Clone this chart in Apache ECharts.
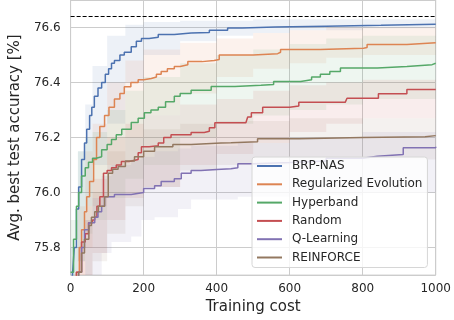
<!DOCTYPE html>
<html>
<head>
<meta charset="utf-8">
<script src="https://cdn.jsdelivr.net/npm/echarts@6/dist/echarts.min.js"></script>
<style>
  html, body { margin: 0; padding: 0; background: #fff; }
  #chart { width: 454px; height: 320px; }
</style>
</head>
<body>
<div id="chart"></div>
<script>
// method names, in plotting order
const methods = ['BRP-NAS', 'Regularized Evolution', 'Hyperband', 'Random', 'Q-Learning', 'REINFORCE'];
const colors = ['#4C72B0', '#DD8452', '#55A868', '#C44E52', '#8172B3', '#937860'];
const xTicks = [0, 200, 400, 600, 800, 1000];
const optimum = 76.64;

// mean curves [training cost, accuracy]
const brpNas = [[0,75.6],[5,75.7],[10,75.8],[16,75.94],[22,76.02],[30,76.12],[38,76.18],[44,76.23],[52,76.28],[58,76.31],[65,76.35],[75,76.38],[85,76.4],[95,76.43],[104,76.45],[112,76.47],[120,76.48],[135,76.5],[147,76.51],[166,76.53],[180,76.55],[194,76.56],[215,76.565],[240,76.575],[284,76.58],[330,76.582],[380,76.59],[430,76.598],[470,76.602],[560,76.605],[700,76.608],[850,76.612],[1000,76.614]];
const regEvo = [[0,75.55],[16,75.71],[24,75.8],[30,75.865],[38,75.93],[44,75.985],[52,76.04],[63,76.12],[71,76.2],[80,76.24],[93,76.28],[105,76.31],[120,76.34],[135,76.36],[147,76.385],[165,76.4],[185,76.41],[200,76.415],[221,76.42],[235,76.43],[248,76.44],[265,76.45],[284,76.458],[300,76.465],[321,76.476],[360,76.48],[393,76.484],[407,76.5],[500,76.505],[567,76.51],[575,76.52],[684,76.525],[802,76.527],[812,76.538],[921,76.545],[1000,76.547]];
const hyperband = [[0,75.71],[8,75.83],[16,75.95],[22,76.0],[30,76.06],[40,76.09],[49,76.11],[60,76.125],[70,76.13],[85,76.156],[100,76.175],[112,76.193],[125,76.21],[140,76.23],[166,76.255],[185,76.27],[202,76.29],[220,76.3],[240,76.31],[260,76.33],[284,76.35],[300,76.36],[330,76.372],[385,76.386],[450,76.39],[521,76.393],[556,76.404],[630,76.41],[660,76.42],[684,76.43],[710,76.44],[739,76.453],[840,76.458],[921,76.465],[990,76.47],[1000,76.472]];
const randomSearch = [[0,75.55],[16,75.71],[30,75.82],[40,75.85],[49,75.89],[60,75.9],[66,75.91],[72,75.95],[80,75.985],[90,76.07],[100,76.08],[112,76.09],[125,76.1],[139,76.113],[160,76.12],[185,76.145],[194,76.167],[215,76.17],[240,76.18],[255,76.2],[275,76.21],[330,76.218],[366,76.223],[380,76.236],[395,76.254],[480,76.256],[485,76.275],[495,76.29],[526,76.31],[600,76.315],[625,76.328],[752,76.332],[757,76.343],[843,76.359],[921,76.375],[1000,76.376]];
const qLearning = [[0,75.5],[22,75.71],[30,75.8],[38,75.865],[50,75.89],[66,75.91],[75,75.93],[85,75.95],[93,75.985],[120,75.993],[166,76.0],[200,76.015],[230,76.025],[248,76.04],[284,76.05],[303,76.07],[330,76.08],[357,76.084],[400,76.087],[439,76.09],[458,76.105],[502,76.109],[600,76.115],[700,76.125],[800,76.132],[840,76.138],[911,76.163],[1000,76.167]];
const reinforce = [[0,75.5],[22,75.71],[30,75.78],[38,75.83],[50,75.88],[57,75.91],[66,75.93],[76,75.95],[93,75.985],[103,76.07],[115,76.085],[130,76.095],[150,76.115],[175,76.13],[200,76.15],[230,76.167],[280,76.175],[330,76.18],[412,76.181],[439,76.185],[512,76.196],[625,76.2],[800,76.203],[971,76.207],[1000,76.207]];

// spread bands [training cost, low, high]
const brpBand = [[0,75.4,75.8],[20,75.75,76.15],[40,75.95,76.32],[60,76.1,76.46],[100,76.25,76.57],[150,76.4,76.61],[200,76.5,76.62],[300,76.55,76.625],[400,76.57,76.625],[500,76.58,76.63],[600,76.59,76.63],[800,76.597,76.63],[1000,76.6,76.63]];
const regEvoBand = [[0,75.4,75.7],[20,75.6,75.95],[40,75.8,76.15],[60,75.95,76.25],[100,76.1,76.4],[150,76.2,76.48],[200,76.28,76.52],[300,76.36,76.545],[400,76.42,76.56],[500,76.45,76.58],[600,76.47,76.59],[700,76.49,76.6],[800,76.5,76.6],[1000,76.52,76.6]];
const hyperbandBand = [[0,75.5,75.9],[20,75.75,76.15],[40,75.85,76.2],[60,75.9,76.22],[100,75.98,76.3],[150,76.05,76.37],[200,76.1,76.42],[300,76.2,76.47],[400,76.25,76.5],[500,76.28,76.52],[600,76.3,76.54],[700,76.32,76.56],[800,76.34,76.57],[1000,76.35,76.58]];
const randomBand = [[0,75.4,75.6],[20,75.6,75.8],[40,75.7,75.95],[60,75.78,76.05],[100,75.9,76.2],[150,75.98,76.25],[200,76.02,76.28],[300,76.1,76.32],[400,76.14,76.34],[500,76.18,76.37],[600,76.22,76.39],[700,76.25,76.4],[800,76.27,76.41],[1000,76.3,76.42]];
const qLearningBand = [[0,75.4,75.65],[40,75.6,75.9],[60,75.7,75.98],[85,75.78,76.06],[112,75.82,76.1],[166,75.84,76.12],[194,75.9,76.13],[230,75.91,76.15],[294,75.94,76.16],[330,75.975,76.17],[458,75.985,76.18],[600,75.99,76.2],[800,76.0,76.22],[1000,76.0,76.25]];
const reinforceBand = [[0,75.4,75.6],[40,75.7,75.9],[60,75.75,76.0],[100,75.85,76.15],[150,75.95,76.2],[200,76.02,76.23],[300,76.08,76.25],[400,76.1,76.26],[600,76.12,76.27],[1000,76.13,76.28]];

const means = [brpNas, regEvo, hyperband, randomSearch, qLearning, reinforce];
const bands = [brpBand, regEvoBand, hyperbandBand, randomBand, qLearningBand, reinforceBand];

const font = 'DejaVu Sans';
const series = [];

// step shaped band polygon, built from the whole band on its first item
function bandRenderer(band, color) {
    return function (params, api) {
        if (params.dataIndex !== 0) return null;
        const top = [], bottom = [];
        band.forEach((d, k) => {
            const next = band[k + 1];
            top.push(api.coord([d[0], d[2]]));
            bottom.push(api.coord([d[0], d[1]]));
            if (next) {
                top.push(api.coord([next[0], d[2]]));
                bottom.push(api.coord([next[0], d[1]]));
            }
        });
        return {
            type: 'polygon',
            shape: { points: top.concat(bottom.reverse()) },
            style: { fill: color, opacity: 0.1 }
        };
    };
}

bands.forEach((band, i) => {
    series.push({
        type: 'custom', silent: true, clip: true, z: 1,
        data: band,
        encode: { x: 0, y: [1, 2] },
        renderItem: bandRenderer(band, colors[i])
    });
});

means.forEach((m, i) => {
    series.push({
        name: methods[i], type: 'line', step: 'end', data: m,
        showSymbol: false, color: colors[i],
        lineStyle: { width: 1.5, color: colors[i] }, z: 3
    });
});

series.push({
    type: 'line', data: [[0, optimum], [1000, optimum]], showSymbol: false, silent: true,
    lineStyle: { color: '#000', width: 1, type: [4, 2] }, z: 3
});

const chart = echarts.init(document.getElementById('chart'));
chart.setOption({
    animation: false,
    textStyle: { fontFamily: font },
    grid: { left: 69, right: 18, top: 0, bottom: 44, show: true, borderColor: '#cccccc', borderWidth: 1 },
    xAxis: {
        type: 'value', min: 0, max: 1000, interval: 200,
        name: 'Training cost', nameLocation: 'middle', nameGap: 23,
        nameTextStyle: { fontSize: 15, color: '#262626', fontFamily: font },
        axisLine: { show: false }, axisTick: { show: false },
        axisLabel: { fontSize: 12, color: '#262626', margin: 8, fontFamily: font,
            formatter: v => xTicks.includes(v) ? String(v) : '' },
        splitLine: { lineStyle: { color: '#cccccc', width: 1 } }
    },
    yAxis: {
        type: 'value', min: 75.7, max: 76.7, splitNumber: 5,
        name: 'Avg. best test accuracy [%]', nameLocation: 'middle', nameGap: 35,
        nameTextStyle: { fontSize: 15, color: '#262626', fontFamily: font },
        axisLine: { show: false }, axisTick: { show: false },
        axisLabel: { fontSize: 12, color: '#262626', margin: 10, fontFamily: font,
            formatter: v => Math.abs(v * 5 - Math.round(v * 5)) < 1e-6 ? v.toFixed(1) : '' },
        splitLine: { lineStyle: { color: '#cccccc', width: 1 } }
    },
    legend: {
        data: methods, orient: 'vertical', left: 252, top: 157,
        icon: 'rect', itemWidth: 25, itemHeight: 2, itemGap: 4.3,
        padding: [2, 5, 3, 5],
        backgroundColor: 'rgba(255,255,255,0.8)', borderColor: '#d6d6d6', borderWidth: 1, borderRadius: 3,
        textStyle: { fontSize: 12, lineHeight: 14, color: '#262626', fontFamily: font, padding: [0, 0, 0, 5] }
    },
    series: series
});
</script>
</body>
</html>
